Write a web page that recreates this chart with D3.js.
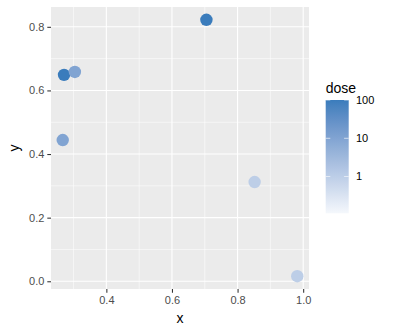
<!DOCTYPE html>
<html><head><meta charset="utf-8">
<script src="https://cdn.jsdelivr.net/npm/d3@7"></script>
<style>body{margin:0;background:#fff}svg{display:block;font-family:"Liberation Sans",Arial,sans-serif}</style>
</head><body><svg id="c" width="400" height="332"></svg>
<script>
const xs = [0.705, 0.271, 0.304, 0.267, 0.852, 0.982];
const ys = [0.822, 0.649, 0.658, 0.444, 0.312, 0.016];
const doses = [100, 100, 10, 10, 1, 1];
const doseLimits = [0.11, 100];
const xTicks = [0.4, 0.6, 0.8, 1.0];
const xMinor = [0.3, 0.5, 0.7, 0.9];
const yTicks = [0.0, 0.2, 0.4, 0.6, 0.8];
const yMinor = [0.1, 0.3, 0.5, 0.7];
const legendTicks = [1, 10, 100];

const svg = d3.select("#c");
const P = {l: 51, r: 309, t: 7, b: 289};
const xPad = (d3.max(xs) - d3.min(xs)) * 0.05, yPad = (d3.max(ys) - d3.min(ys)) * 0.05;
const x = d3.scaleLinear().domain([d3.min(xs) - xPad, d3.max(xs) + xPad]).range([P.l, P.r]);
const y = d3.scaleLinear().domain([d3.min(ys) - yPad, d3.max(ys) + yPad]).range([P.b, P.t]);
const lowC = "#F5F8FC", highC = "#3A7CBC";
const cs = d3.scaleLog().domain(doseLimits).range([0, 1]);
const col = d => d3.interpolateLab(lowC, highC)(Math.max(0, Math.min(1, cs(d))));

svg.append("rect").attr("x", P.l).attr("y", P.t).attr("width", P.r - P.l).attr("height", P.b - P.t).attr("fill", "#EBEBEB");
const g = svg.append("g");
xMinor.forEach(v => g.append("line").attr("x1", x(v)).attr("x2", x(v)).attr("y1", P.t).attr("y2", P.b).attr("stroke", "#fff").attr("stroke-width", 0.55));
yMinor.forEach(v => g.append("line").attr("y1", y(v)).attr("y2", y(v)).attr("x1", P.l).attr("x2", P.r).attr("stroke", "#fff").attr("stroke-width", 0.55));
xTicks.forEach(v => g.append("line").attr("x1", x(v)).attr("x2", x(v)).attr("y1", P.t).attr("y2", P.b).attr("stroke", "#fff").attr("stroke-width", 1.1));
yTicks.forEach(v => g.append("line").attr("y1", y(v)).attr("y2", y(v)).attr("x1", P.l).attr("x2", P.r).attr("stroke", "#fff").attr("stroke-width", 1.1));

const xa = svg.append("g").attr("transform", `translate(0,${P.b})`)
  .call(d3.axisBottom(x).tickValues(xTicks).tickFormat(d3.format(".1f")).tickSize(3.7).tickPadding(3));
const ya = svg.append("g").attr("transform", `translate(${P.l},0)`)
  .call(d3.axisLeft(y).tickValues(yTicks).tickFormat(d3.format(".1f")).tickSize(3.7).tickPadding(3));
[xa, ya].forEach(a => {
  a.select(".domain").remove();
  a.selectAll(".tick line").attr("stroke", "#333").attr("stroke-width", 1.07);
  a.selectAll(".tick text").attr("fill", "#4D4D4D").style("font-size", "11px");
});

svg.append("g").selectAll("circle").data(xs.map((d, i) => i)).join("circle")
  .attr("cx", i => x(xs[i])).attr("cy", i => y(ys[i])).attr("r", 6.2).attr("fill", i => col(doses[i]));

svg.append("text").attr("x", (P.l + P.r) / 2).attr("y", 323).attr("text-anchor", "middle").style("font-size", "14px").text("x");
svg.append("text").attr("transform", `translate(19,${(P.t + P.b) / 2}) rotate(-90)`).attr("text-anchor", "middle").style("font-size", "14px").text("y");

// legend
const L = {x: 325.7, w: 23, top: 100, bot: 213.3};
const ly = d3.scaleLog().domain(doseLimits).range([L.bot, L.top]);
const defs = svg.append("defs");
const grad = defs.append("linearGradient").attr("id", "lg").attr("x1", 0).attr("x2", 0).attr("y1", 1).attr("y2", 0);
d3.range(0, 1.0001, 0.05).forEach(t => grad.append("stop").attr("offset", t).attr("stop-color", d3.interpolateLab(lowC, highC)(t)));
svg.append("rect").attr("x", L.x).attr("y", L.top).attr("width", L.w).attr("height", L.bot - L.top).attr("fill", "url(#lg)");
legendTicks.forEach(v => {
  const yy = ly(v);
  svg.append("line").attr("x1", L.x).attr("x2", L.x + L.w / 5).attr("y1", yy).attr("y2", yy).attr("stroke", "#fff").attr("stroke-width", 0.8).attr("opacity", 0.8);
  svg.append("line").attr("x1", L.x + L.w - L.w / 5).attr("x2", L.x + L.w).attr("y1", yy).attr("y2", yy).attr("stroke", "#fff").attr("stroke-width", 0.8).attr("opacity", 0.8);
  svg.append("text").attr("x", 356).attr("y", yy).attr("dy", "0.35em").style("font-size", "11px").attr("fill", "#000").text(d3.format("d")(v));
});
svg.append("text").attr("x", L.x).attr("y", 93).style("font-size", "14px").text("dose");
</script></body></html>
